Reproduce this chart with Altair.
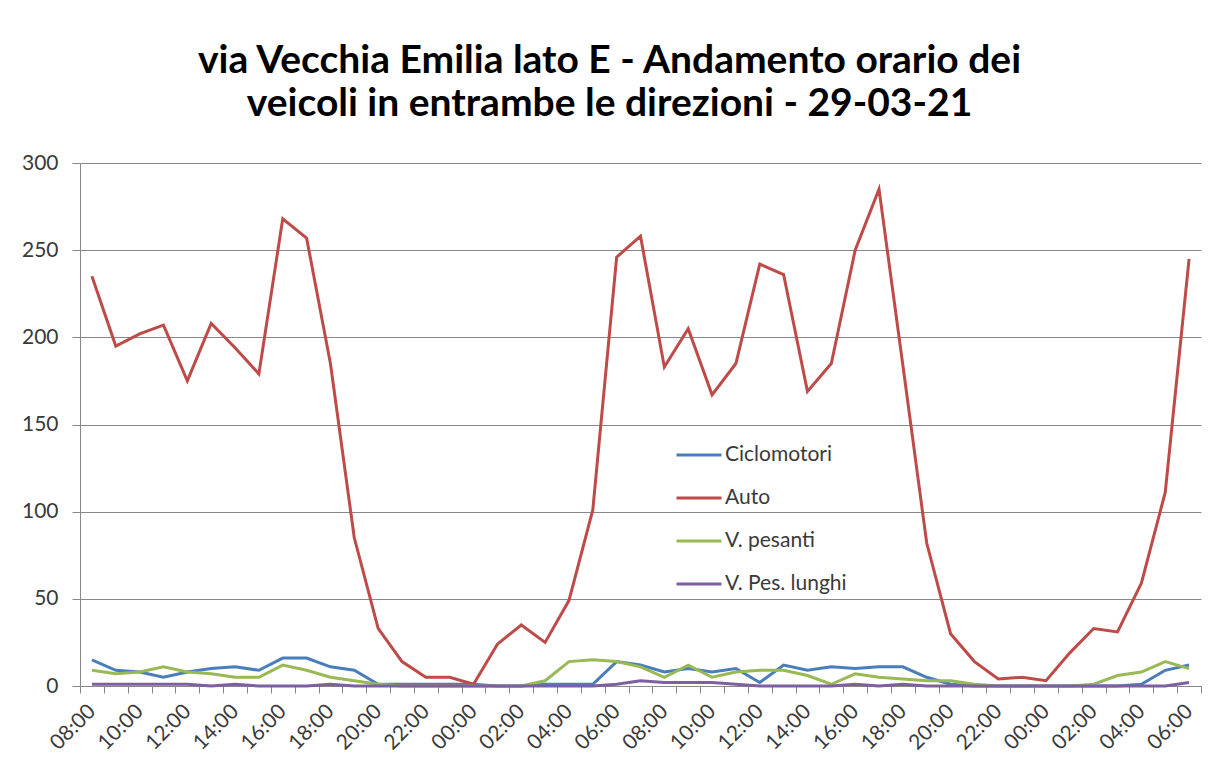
import json
import altair as alt
import pandas as pd

hours = [
    "08:00", "09:00", "10:00", "11:00", "12:00", "13:00", "14:00", "15:00",
    "16:00", "17:00", "18:00", "19:00", "20:00", "21:00", "22:00", "23:00",
    "00:00", "01:00", "02:00", "03:00", "04:00", "05:00", "06:00", "07:00",
    "08:00", "09:00", "10:00", "11:00", "12:00", "13:00", "14:00", "15:00",
    "16:00", "17:00", "18:00", "19:00", "20:00", "21:00", "22:00", "23:00",
    "00:00", "01:00", "02:00", "03:00", "04:00", "05:00", "06:00",
]

ciclomotori = [15, 9, 8, 5, 8, 10, 11, 9, 16, 16, 11, 9, 1, 1, 1, 1,
               1, 0, 0, 1, 1, 1, 14, 12, 8, 10, 8, 10, 2, 12, 9, 11,
               10, 11, 11, 5, 1, 0, 0, 0, 0, 0, 0, 0, 1, 9, 12]
auto = [235, 195, 202, 207, 175, 208, 194, 179, 268, 257, 185, 85, 33, 14, 5, 5,
        1, 24, 35, 25, 49, 101, 246, 258, 183, 205, 167, 185, 242, 236, 169, 185,
        250, 285, 184, 82, 30, 14, 4, 5, 3, 19, 33, 31, 59, 111, 245]
pesanti = [9, 7, 8, 11, 8, 7, 5, 5, 12, 9, 5, 3, 1, 0, 0, 0,
           0, 0, 0, 3, 14, 15, 14, 11, 5, 12, 5, 8, 9, 9, 6, 1,
           7, 5, 4, 3, 3, 1, 0, 0, 0, 0, 1, 6, 8, 14, 10]
pes_lunghi = [1, 1, 1, 1, 1, 0, 1, 0, 0, 0, 1, 0, 0, 0, 0, 0,
              0, 0, 0, 0, 0, 0, 1, 3, 2, 2, 2, 1, 0, 0, 0, 0,
              1, 0, 1, 0, 0, 0, 0, 0, 0, 0, 0, 0, 0, 0, 2]

series_names = ["Ciclomotori", "Auto", "V. pesanti", "V. Pes. lunghi"]
series_values = [ciclomotori, auto, pesanti, pes_lunghi]
series_colors = ["#4A7EBB", "#BE4B48", "#98B954", "#7D60A0"]

title_lines = ["via Vecchia Emilia lato E - Andamento orario dei",
               "veicoli in entrambe le direzioni - 29-03-21"]

rows = []
for si, (name, vals) in enumerate(zip(series_names, series_values)):
    for i, v in enumerate(vals):
        rows.append({"idx": i, "serie": name, "order": si, "value": v})
df = pd.DataFrame(rows)

label_expr = "datum.value % 2 == 0 ? " + json.dumps(hours) + "[datum.value] : ''"

FONT = "Lato"
GREY = "#888888"
TXT = "#3a3a3a"

chart = alt.Chart(df).mark_line(strokeWidth=3).encode(
    x=alt.X("idx:O",
            bandPosition=0.5,
            scale=alt.Scale(type="band", paddingInner=0, paddingOuter=0),
            axis=alt.Axis(title=None, labelExpr=label_expr, labelAngle=315,
                          labelAlign="right", labelBaseline="middle",
                          labelOverlap=False, tickBand="extent", tickSize=7,
                          labelPadding=15, labelFontSize=21, labelFont=FONT,
                          labelColor=TXT, grid=False,
                          domainColor=GREY, tickColor=GREY)),
    y=alt.Y("value:Q",
            scale=alt.Scale(domain=[0, 300], nice=False),
            axis=alt.Axis(title=None, values=[0, 50, 100, 150, 200, 250, 300],
                          tickSize=8, labelPadding=14, labelFontSize=21,
                          labelFont=FONT, labelColor=TXT,
                          gridColor=GREY, gridWidth=1.2,
                          domainColor=GREY, tickColor=GREY)),
    color=alt.Color("serie:N",
                    scale=alt.Scale(domain=series_names, range=series_colors),
                    legend=alt.Legend(orient="none", legendX=595, legendY=268,
                                      title=None, symbolType="stroke",
                                      symbolSize=2025, symbolStrokeWidth=3,
                                      labelFontSize=21, labelFont=FONT,
                                      labelColor=TXT, rowPadding=9,
                                      labelOffset=2, padding=0)),
    order=alt.Order("order:Q"),
).properties(
    width=1121,
    height=523,
    title=alt.Title(title_lines, fontSize=39, font=FONT, fontWeight="bold",
                    color="#000000", lineHeight=43, dx=-31, offset=28,
                    anchor="middle"),
    autosize=alt.AutoSizeParams(type="none"),
    padding={"left": 72, "top": 155, "right": 2, "bottom": 70},
).configure_view(stroke=None)

chart.save("out.html", embed_options={"renderer": "svg", "actions": False})
